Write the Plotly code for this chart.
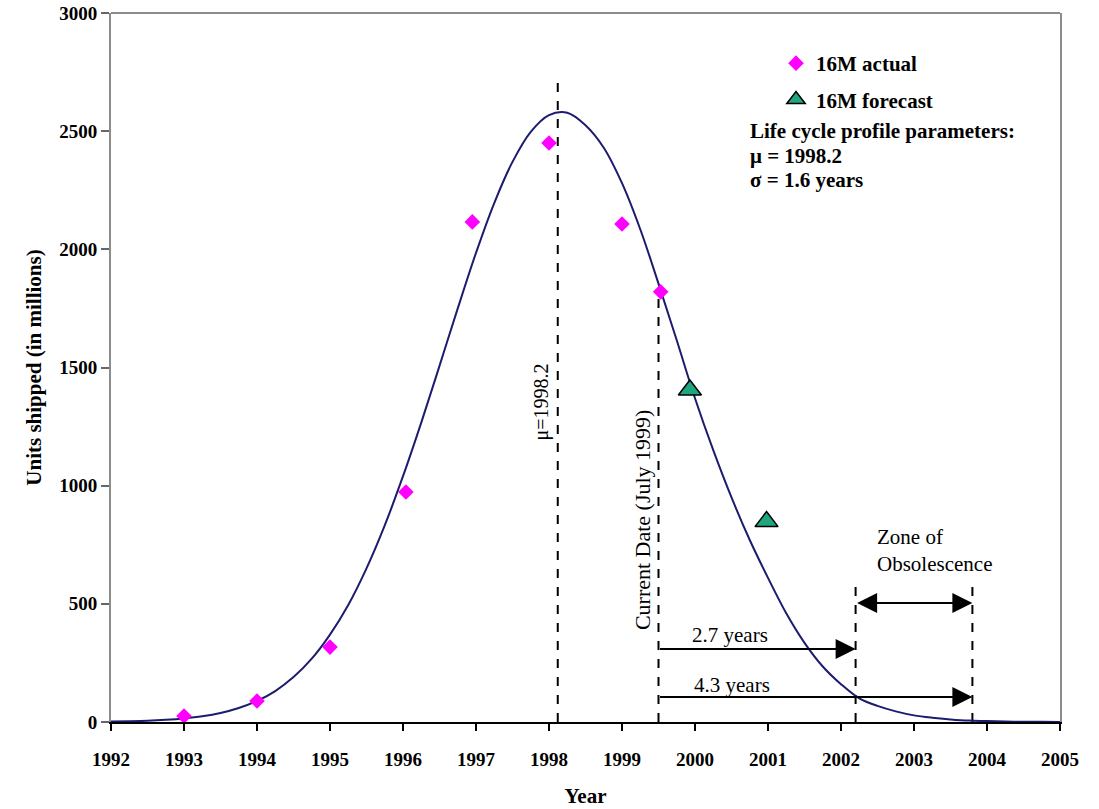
import plotly.graph_objects as go

# ---------------- data ----------------
actual_year = [1993.0, 1994.0, 1995.0, 1996.04, 1996.95, 1998.0, 1999.0, 1999.53]
actual_units = [25, 89, 317, 973, 2116, 2450, 2107, 1820]

forecast_year = [1999.93, 2000.98]
forecast_units = [1405, 848]

curve_year = [1992.0, 1992.25, 1992.5, 1992.75, 1993.0, 1993.25, 1993.5, 1993.75,
              1994.0, 1994.25, 1994.5, 1994.75, 1995.0, 1995.25, 1995.5, 1995.75,
              1996.0, 1996.25, 1996.5, 1996.75, 1997.0, 1997.25, 1997.5, 1997.75,
              1998.0, 1998.25, 1998.5, 1998.75, 1999.0, 1999.25, 1999.5, 1999.75,
              2000.0, 2000.25, 2000.5, 2000.75, 2001.0, 2001.25, 2001.5, 2001.75,
              2002.0, 2002.25, 2002.5, 2002.75, 2003.0, 2003.25, 2003.5, 2003.75,
              2004.0, 2004.25, 2004.5, 2004.75, 2005.0]
curve_units = [2, 3, 5, 9, 15, 24, 38, 59,
               89, 131, 190, 268, 370, 495, 650, 832,
               1040, 1267, 1507, 1750, 1985, 2196, 2370, 2497,
               2568, 2578, 2525, 2430, 2280, 2085, 1855, 1615,
               1370, 1150, 950, 770, 610, 460, 335, 235,
               160, 100, 68, 45, 28, 18, 11, 6,
               4, 2, 1, 1, 0]

mu_line_year = 1998.12
mu_line_top = 2733
current_date = 1999.5
current_line_top = 1800
obsolete_start = 2002.2
obsolete_end = 2003.8
obsolete_line_top = 592

x_ticks = list(range(1992, 2006))
y_ticks = [0, 500, 1000, 1500, 2000, 2500, 3000]

SERIF = "Liberation Serif, Times New Roman, serif"
NAVY = "#1c1c6e"
MAGENTA = "#ff00ff"
TEAL = "#1fa67e"

fig = go.Figure()

fig.add_trace(go.Scatter(
    x=curve_year, y=curve_units, mode="lines", line=dict(color=NAVY, width=2, shape="spline"),
    showlegend=False, hoverinfo="skip"))

fig.add_trace(go.Scatter(
    x=actual_year, y=actual_units, mode="markers", name="<b>16M actual</b>",
    marker=dict(symbol="diamond", size=12, color=MAGENTA, line=dict(width=0)),
    legendgroup="a"))

fig.add_trace(go.Scatter(
    x=forecast_year, y=forecast_units, mode="markers", name="<b>16M forecast</b>",
    marker=dict(symbol="triangle-up", size=20, color=TEAL, line=dict(width=1.5, color="black")),
    legendgroup="b"))

# dashed vertical lines
dash_lines = [(mu_line_year, mu_line_top), (current_date, current_line_top),
              (obsolete_start, obsolete_line_top), (obsolete_end, obsolete_line_top)]
for xv, top in dash_lines:
    fig.add_shape(type="line", x0=xv, x1=xv, y0=0, y1=top, xref="x", yref="y",
                  line=dict(color="black", width=2, dash="dash"), layer="below")

# gray top frame line
fig.add_shape(type="line", x0=0, x1=1, y0=1, y1=1, xref="paper", yref="paper",
              line=dict(color="#8c8c8c", width=2))

# arrows
def arrow(x_from, x_to, y, both=False):
    fig.add_annotation(x=x_to, y=y, ax=x_from, ay=y, xref="x", yref="y", axref="x", ayref="y",
                       showarrow=True, arrowhead=2, arrowsize=2.0, arrowwidth=2,
                       arrowcolor="black", arrowside="end+start" if both else "end", text="")

arrow(current_date, obsolete_start, 309)
arrow(current_date, obsolete_end, 106)
arrow(obsolete_start, obsolete_end, 504, both=True)

txt = dict(family=SERIF, size=21, color="black")
fig.add_annotation(x=2000.48, y=368, text="2.7 years", showarrow=False, font=txt)
fig.add_annotation(x=2000.5, y=157, text="4.3 years", showarrow=False, font=txt)
fig.add_annotation(x=2002.47, y=724, text="Zone of<br>Obsolescence", showarrow=False,
                   font=txt, xanchor="left", align="left")
fig.add_annotation(x=1999.29, y=855, text="Current Date (July 1999)", showarrow=False,
                   font=dict(family=SERIF, size=22, color="black"), textangle=-90)
fig.add_annotation(x=1997.9, y=1355, text="μ=1998.2", showarrow=False,
                   font=dict(family=SERIF, size=20, color="black"), textangle=-90)

param_font = dict(family=SERIF, size=21, color="black")
for i, line in enumerate(["Life cycle profile parameters:", "μ = 1998.2", "σ = 1.6 years"]):
    fig.add_annotation(x=(748 - 111) / 949, y=(722 - 131 - 24.5 * i) / 709, xref="paper", yref="paper",
                       text="<b>" + line + "</b>", showarrow=False, font=param_font,
                       xanchor="left", yanchor="middle")

fig.update_layout(
    width=1099, height=809,
    margin=dict(l=111, r=39, t=13, b=87),
    plot_bgcolor="white", paper_bgcolor="white",
    font=dict(family=SERIF, color="black"),
    legend=dict(x=(776 - 111) / 949, y=(722 - 43) / 709, xanchor="left", yanchor="top",
                bgcolor="rgba(0,0,0,0)",
                font=dict(family=SERIF, size=21, color="black"), tracegroupgap=6,
                itemsizing="trace"),
    xaxis=dict(range=[1992, 2005], tickvals=x_ticks, ticktext=[str(v) for v in x_ticks],
               ticks="outside", ticklen=7, tickwidth=1.5, tickcolor="black",
               showline=True, linecolor="black", linewidth=2, showgrid=False, zeroline=False,
               automargin=False, ticklabeloverflow="allow",
               tickfont=dict(family=SERIF, size=19, weight="bold", color="black"),
               ticklabelstandoff=12,
               title=dict(text="<b>Year</b>", font=dict(family=SERIF, size=21), standoff=20)),
    yaxis=dict(range=[0, 3000], tickvals=y_ticks, ticks="outside", ticklen=8, tickwidth=1.5,
               tickcolor="#666666", showline=True, linecolor="#8c8c8c", linewidth=2, mirror=True,
               showgrid=False, zeroline=False, automargin=False, ticklabeloverflow="allow",
               tickfont=dict(family=SERIF, size=19, weight="bold", color="black"),
               title=dict(text="<b>Units shipped (in millions)</b>", font=dict(family=SERIF, size=21),
                          standoff=12)),
)

# remove the default page margin so the 1099x809 figure fills the window exactly
fig.write_html("out.html", config={"displayModeBar": False},
               post_script="document.body.style.margin='0';")
